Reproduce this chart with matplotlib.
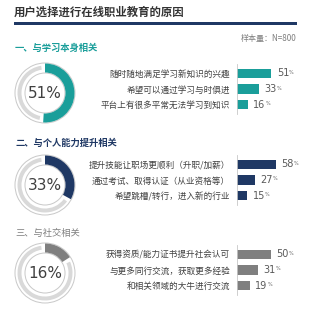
import matplotlib
matplotlib.use("Agg")
import matplotlib.pyplot as plt
from matplotlib.patches import Wedge

plt.rcParams['font.family'] = ['Noto Sans CJK SC', 'DejaVu Sans']

W, H = 320, 326

title = "用户选择进行在线职业教育的原因"
sample = "样本量：N=800"
sections = ["一、与学习本身相关", "二、与个人能力提升相关", "三、与社交相关"]
donut_pct = [51, 33, 16]
labels = [
    ["随时随地满足学习新知识的兴趣", "希望可以通过学习与时俱进", "平台上有很多平常无法学习到知识"],
    ["提升技能让职场更顺利（升职/加薪）", "通过考试、取得认证（从业资格等）", "希望跳槽/转行，进入新的行业"],
    ["获得资质/能力证书提升社会认可", "与更多同行交流，获取更多经验", "和相关领域的大牛进行交流"],
]
values = [[51, 33, 16], [58, 27, 15], [50, 31, 19]]
colors = ["#1a9e9a", "#1f3864", "#7f7f7f"]

# layout in pixels (top-left origin)
head_y = [48, 143, 233]
donut_cy = [93, 185, 273]
bar_top = [64, 155, 245]


def rect(x, y, w, h):
    return [x / W, 1 - (y + h) / H, w / W, h / H]


fig = plt.figure(figsize=(W / 100, H / 100), dpi=100)
fig.text(14 / W, 1 - 12 / H, title, fontsize=8.2, color="#333333",
         fontweight="bold", va="center", ha="left")
line_ax = fig.add_axes(rect(14, 22, 283, 3))
line_ax.axhspan(0, 1, color="#1f3864")
line_ax.set_xlim(0, 1); line_ax.set_ylim(0, 1)
line_ax.axis("off")
fig.text(297 / W, 1 - 38 / H, sample, fontsize=5.8, color="#7f7f7f",
         va="center", ha="right")

for i in range(3):
    c = colors[i]
    fig.text(15 / W, 1 - head_y[i] / H, sections[i], fontsize=6.7, color=c,
             fontweight="bold" if i < 2 else "normal", va="center", ha="left")

    # donut
    dax = fig.add_axes(rect(10, donut_cy[i] - 35, 70, 70))
    dax.set_xlim(-35, 35); dax.set_ylim(-35, 35)
    dax.set_aspect("equal"); dax.axis("off")
    dax.add_patch(Wedge((0, 0), 30, 0, 360, width=10, facecolor="white",
                        edgecolor="#c8c8c8", lw=0.7))
    p = donut_pct[i]
    end = 90 - 3.6 * p
    dax.add_patch(Wedge((0, 0), 29.5, end, 90, width=9, facecolor=c,
                        edgecolor="none"))
    dax.add_patch(Wedge((0, 0), 27.5, 90 + 8, 360 + end - 8, width=4,
                        facecolor="#d9d9d9", edgecolor="none"))
    dax.text(0, 0, f"{p}%", fontsize=11, color="#404040", ha="center",
             va="center", family=["DejaVu Sans"])

    # bars
    bax = fig.add_axes(rect(237, bar_top[i], 67, 50))
    y = range(len(values[i]))
    bax.barh(y, values[i], height=0.58, color=c)
    bax.set_xlim(0, 100)
    bax.set_ylim(2.6, -0.6)
    bax.set_yticks(list(y))
    bax.set_yticklabels(labels[i], fontsize=6.2, color="#404040")
    bax.tick_params(axis="y", length=0, pad=5)
    bax.set_xticks([])
    for s in ["top", "right", "bottom"]:
        bax.spines[s].set_visible(False)
    bax.spines["left"].set_color("#c8c8c8")
    bax.spines["left"].set_linewidth(0.6)
    for j, v in enumerate(values[i]):
        t = bax.annotate(str(v), xy=(v, j), xytext=(4, 0),
                         textcoords="offset points", fontsize=7,
                         color="#595959", va="center", ha="left",
                         family=["DejaVu Sans"])
        bax.annotate("%", xy=(1, 0.85), xycoords=t, fontsize=3.5,
                     color="#595959", va="top", ha="left",
                     family=["DejaVu Sans"])

fig.savefig("out.png", dpi=100)
